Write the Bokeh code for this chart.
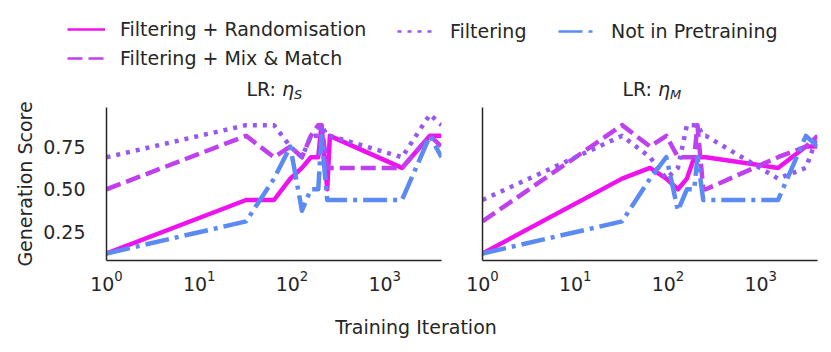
import math
from bokeh.plotting import figure
from bokeh.layouts import column, row
from bokeh.models import Range1d, FixedTicker, Label, Legend, LegendItem, PrintfTickFormatter
from bokeh.embed import file_html
from bokeh.resources import INLINE

# ---------------- data ----------------
iterations = [1, 32, 64, 96, 128, 160, 192, 208, 240, 256, 1536, 3072, 4096]

series_names = ["Filtering + Randomisation", "Filtering + Mix & Match", "Filtering", "Not in Pretraining"]

# LR: eta_S
fr_s = [0.125, 0.4375, 0.4375, 0.5625, 0.625, 0.6875, 0.6875, 0.875, 0.5, 0.8125, 0.625, 0.8125, 0.8125]
fmm_s = [0.5, 0.8125, 0.6875, 0.75, 0.6875, 0.8125, 0.875, 0.875, 0.625, 0.625, 0.625, 0.8125, 0.75]
f_s = [0.6875, 0.875, 0.875, 0.75, 0.6875, 0.8125, 0.8125, 0.875, 0.8125, 0.8125, 0.6875, 0.9375, 0.875]
np_s = [0.125, 0.3125, 0.5625, 0.75, 0.375, 0.5, 0.5, 0.8125, 0.4375, 0.4375, 0.4375, 0.8125, 0.6875]

# LR: eta_M
fr_m = [0.125, 0.5625, 0.625, 0.5625, 0.5, 0.5625, 0.6875, 0.6875, 0.6875, 0.6875, 0.625, 0.75, 0.75]
fmm_m = [0.3125, 0.875, 0.75, 0.8125, 0.6875, 0.6875, 0.6875, 0.875, 0.5, 0.5, 0.6875, 0.75, 0.8125]
f_m = [0.4375, 0.8125, 0.6875, 0.5625, 0.625, 0.875, 0.875, 0.875, 0.8125, 0.8125, 0.5625, 0.625, 0.8125]
np_m = [0.125, 0.3125, 0.5625, 0.6875, 0.375, 0.5, 0.5, 0.6875, 0.4375, 0.4375, 0.4375, 0.8125, 0.75]

panel_subscripts = ["S", "M"]
y_ticks = [0.25, 0.5, 0.75]
x_ticks = [1, 10, 100, 1000]

# ---------------- style ----------------
FONT = "DejaVu Sans"
TXT = "#262626"
FS = "19px"
colors = ["#f012ee", "#c040f0", "#9558f2", "#5b8af5"]
dashes = ["solid", "15 6", "4 6", "24 6 4 6"]

Y0, Y1 = 0.084, 0.978
yr = Range1d(Y0, Y1)

TOTAL_W = 831
TOTAL_H = 352
LEFT_W = 40
MAIN_W = TOTAL_W - LEFT_W
TOP_H = 107
PANEL_H = 198
BOT_H = TOTAL_H - TOP_H - PANEL_H
FRAME_W = 335


def blank(width, height):
    f = figure(width=width, height=height, x_range=Range1d(0, width), y_range=Range1d(0, height),
               output_backend="svg", toolbar_location=None,
               min_border=0, min_border_left=0, min_border_right=0,
               min_border_top=0, min_border_bottom=0)
    f.axis.visible = False
    f.grid.visible = False
    f.outline_line_color = None
    return f


def make_panel(width, left, right, values, show_ylabels):
    p = figure(width=width, height=PANEL_H, x_axis_type="log",
               x_range=Range1d(iterations[0], iterations[-1]), y_range=yr,
               output_backend="svg", toolbar_location=None,
               min_border_left=left, min_border_right=right,
               min_border_top=0, min_border_bottom=45)
    p.grid.visible = False
    p.outline_line_color = None
    for vals, c, d in zip(values, colors, dashes):
        p.line(iterations, vals, line_color=c, line_width=4.5, line_dash=d, line_join="round")
    for ax in (p.xaxis[0], p.yaxis[0]):
        ax.axis_line_color = TXT
        ax.axis_line_width = 1.5
        ax.major_tick_line_color = None
        ax.minor_tick_line_color = None
        ax.major_tick_out = 0
        ax.minor_tick_out = 0
        ax.major_label_text_font = FONT
        ax.major_label_text_font_size = FS
        ax.major_label_text_color = TXT
    p.xaxis.ticker = FixedTicker(ticks=x_ticks)
    p.xaxis.major_label_standoff = 9
    if show_ylabels:
        p.yaxis.ticker = FixedTicker(ticks=y_ticks)
        p.yaxis.formatter = PrintfTickFormatter(format="%.2f")
        p.yaxis.major_label_standoff = 21
    else:
        p.yaxis.ticker = FixedTicker(ticks=[])
        p.yaxis.major_label_standoff = 0
    return p


P1_W, P1_L = 462 - LEFT_W, 106 - LEFT_W
P2_W, P2_L = MAIN_W - P1_W, 20
p1 = make_panel(P1_W, P1_L, P1_W - P1_L - FRAME_W, [fr_s, fmm_s, f_s, np_s], True)
p2 = make_panel(P2_W, P2_L, P2_W - P2_L - FRAME_W, [fr_m, fmm_m, f_m, np_m], False)

# ---------------- y label strip ----------------
yl = blank(LEFT_W, TOTAL_H)
yl.add_layout(Label(x=24, y=TOTAL_H - (TOP_H + 153 / 2), text="Generation Score", angle=math.pi / 2,
                    text_align="center", text_baseline="middle",
                    text_font=FONT, text_font_size=FS, text_color=TXT))

# ---------------- legend + titles strip ----------------
top = blank(MAIN_W, TOP_H)
rends = []
for c, d in zip(colors, dashes):
    rends.append(top.line(x=[-100, -90], y=[-100, -100], line_color=c, line_width=2.5, line_dash=d))


def mk_legend(idx, loc):
    items = [LegendItem(label=series_names[i], renderers=[rends[i]]) for i in idx]
    return Legend(items=items, location=loc, orientation="vertical",
                  label_text_font=FONT, label_text_font_size=FS, label_text_color=TXT,
                  glyph_width=38, glyph_height=20, label_height=20, label_standoff=15,
                  spacing=7, padding=0, margin=0, border_line_color=None,
                  background_fill_alpha=0)


top.add_layout(mk_legend([0, 1], (67 - LEFT_W, 38)), "center")
top.add_layout(mk_legend([2], (397 - LEFT_W, 65)), "center")
top.add_layout(mk_legend([3], (558 - LEFT_W, 65)), "center")

# panel titles "LR: eta_sub"
TY = TOP_H - 88
centers = [P1_L + FRAME_W / 2, P1_W + P2_L + FRAME_W / 2]
for xc, sub in zip(centers, panel_subscripts):
    top.add_layout(Label(x=xc, y=TY, text="LR:", text_align="right", text_baseline="middle",
                         x_offset=2, text_font=FONT, text_font_size=FS, text_color=TXT))
    top.add_layout(Label(x=xc + 8, y=TY, text="η", text_align="left", text_baseline="middle",
                         text_font=FONT, text_font_size=FS, text_color=TXT,
                         text_font_style="italic"))
    top.add_layout(Label(x=xc + 20, y=TY - 6, text=sub, text_align="left", text_baseline="middle",
                         text_font=FONT, text_font_size="13px", text_color=TXT,
                         text_font_style="italic"))

# ---------------- x label strip ----------------
xl = blank(MAIN_W, BOT_H)
xl.add_layout(Label(x=TOTAL_W / 2 - LEFT_W, y=BOT_H - 21, text="Training Iteration", text_align="center",
                    text_baseline="middle", text_font=FONT, text_font_size=FS, text_color=TXT))

layout = row(yl, column(top, row(p1, p2), xl))
open("out.html", "w").write(file_html(layout, INLINE))
